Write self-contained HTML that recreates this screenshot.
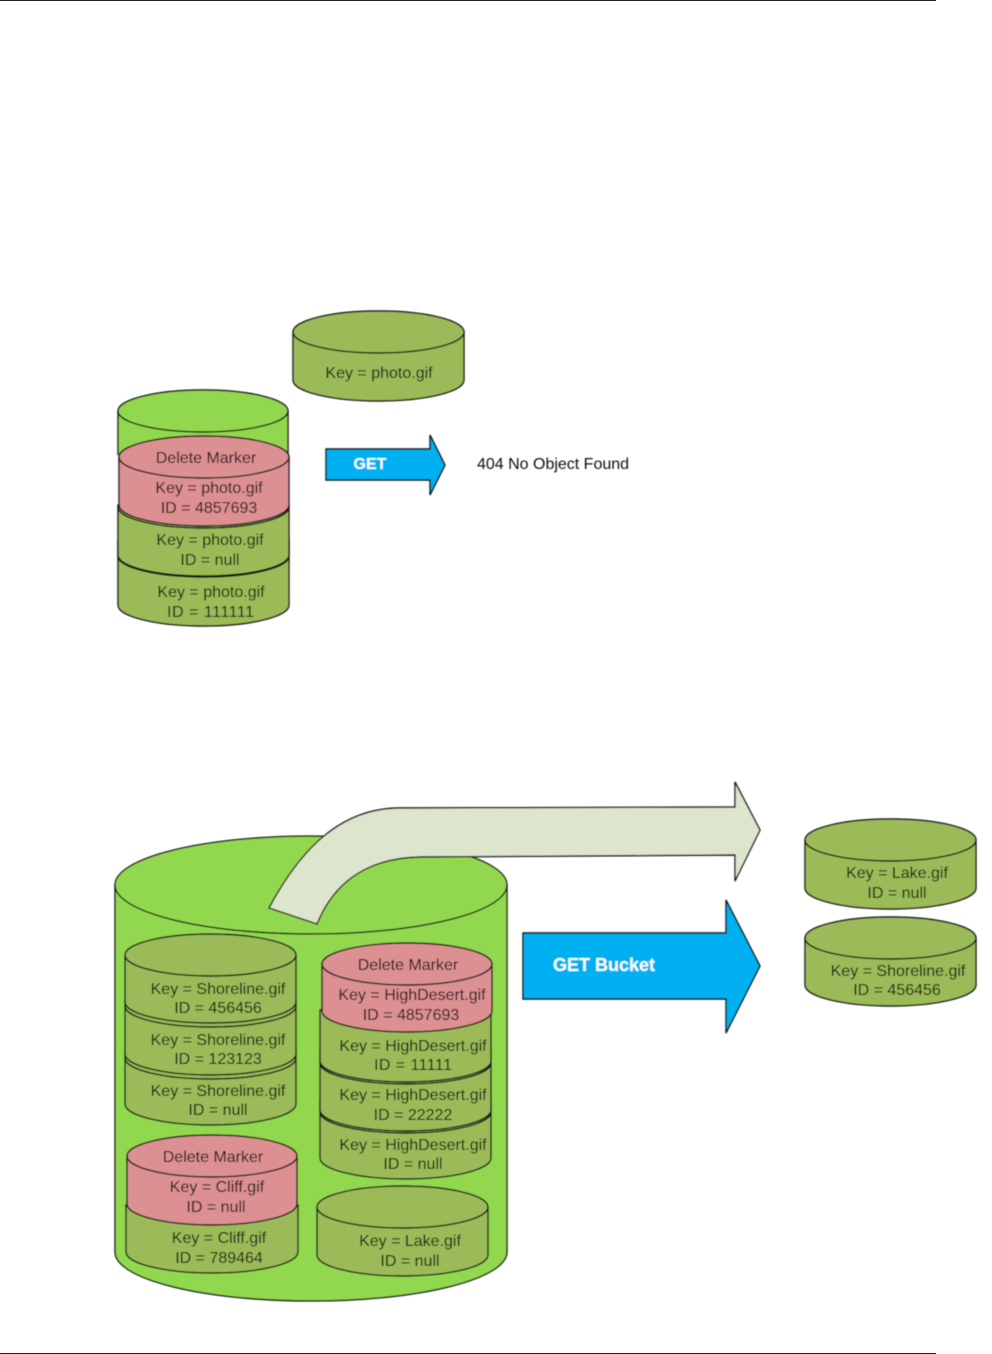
<!DOCTYPE html>
<html><head><meta charset="utf-8"><style>
html,body{margin:0;padding:0;background:#fff;width:992px;height:1354px;overflow:hidden}
svg{display:block}
text{font-family:"Liberation Sans",sans-serif;font-size:16px;fill:#111;text-anchor:middle}
.g{fill:#9bbb59}.r{fill:#dd9092}.l{fill:#92d850}
path,ellipse{stroke:#141414;stroke-width:1.4}
</style></head><body>
<svg width="992" height="1354" viewBox="0 0 992 1354" xmlns="http://www.w3.org/2000/svg">
<defs><filter id="b" x="-2%" y="-2%" width="104%" height="104%"><feGaussianBlur stdDeviation="0.4"/></filter></defs>
<rect x="0" y="0" width="936" height="1" fill="#222"/>
<rect x="0" y="1353" width="936" height="1" fill="#222"/>
<g filter="url(#b)">
<!-- top photo cylinder -->
<path class="g" d="M293,332 A85.5,21 0 0 1 464,332 V380 A85.5,21 0 0 1 293,380 Z"/>
<path fill="none" d="M293,332 A85.5,21 0 0 0 464,332"/>
<text x="379" y="378">Key = photo.gif</text>

<!-- left stack -->
<path class="l" d="M118,411 A85,21 0 0 1 288,411 V455 H118 Z" style="stroke:none"/>
<path fill="none" d="M118,455 V411 A85,21 0 0 1 288,411 V455"/>
<path fill="none" d="M118,411 A85,21 0 0 0 288,411"/>
<path class="g" d="M118,540 H289 V605 A85.5,21 0 0 1 118,605 Z"/>
<path fill="none" stroke-width="2" d="M118,556 A85.5,21 0 0 0 289,556"/>
<path class="g" d="M118,505 H289 V555 A85.5,21 0 0 1 118,555 Z"/>
<path fill="none" stroke-width="1.6" d="M118,507 A85.5,21 0 0 0 289,507"/>
<path class="r" d="M119,457 A85,21 0 0 1 289,457 V505 A85,21 0 0 1 119,505 Z"/>
<path fill="none" d="M119,457 A85,21 0 0 0 289,457"/>
<text x="206" y="463">Delete Marker</text>
<text x="209" y="493">Key = photo.gif</text>
<text x="209" y="513">ID = 4857693</text>
<text x="210" y="545">Key = photo.gif</text>
<text x="210" y="565">ID = null</text>
<text x="211" y="597">Key = photo.gif</text>
<text x="210.5" y="617" textLength="87">ID = 111111</text>

<!-- GET arrow -->
<path fill="#00b0f0" d="M326,449 H430 V435 L445,465 L430,495 V480 H326 Z"/>
<text x="370" y="469" style="fill:#fff;font-weight:bold">GET</text>
<text x="553" y="469" style="fill:#111">404 No Object Found</text>

<!-- big cylinder -->
<path class="l" d="M115,885 A196,49 0 0 1 507,885 V1252 A196,49 0 0 1 115,1252 Z"/>
<path fill="none" d="M115,885 A196,49 0 0 0 507,885"/>

<!-- curved arrow -->
<path fill="#dde5cd" stroke-width="1.5" d="M269,908 C300,850 340,808 400,808 L735,807 V782 L760,830 L735,881 V855 L420,857 C370,858 335,880 317,924 Z"/>

<!-- bucket arrow -->
<path fill="#00b0f0" d="M523,933 H726 V900 L760,966 L726,1033 V999 H523 Z"/>
<text x="604" y="971" style="fill:#fff;font-weight:bold;font-size:18px">GET Bucket</text>

<!-- Shoreline stack -->
<path class="g" d="M125,1050 H296 V1104 A85.5,21 0 0 1 125,1104 Z"/>
<path fill="none" d="M125,1058 A85.5,21 0 0 0 296,1058"/>
<path class="g" d="M125,1000 H296 V1054 A85.5,21 0 0 1 125,1054 Z"/>
<path fill="none" d="M125,1006 A85.5,21 0 0 0 296,1006"/>
<path class="g" d="M125,955 A85.5,21 0 0 1 296,955 V1002 A85.5,21 0 0 1 125,1002 Z"/>
<path fill="none" d="M125,955 A85.5,21 0 0 0 296,955"/>
<text x="218" y="994">Key = Shoreline.gif</text>
<text x="218" y="1013">ID = 456456</text>
<text x="218" y="1045">Key = Shoreline.gif</text>
<text x="218" y="1064">ID = 123123</text>
<text x="218" y="1096">Key = Shoreline.gif</text>
<text x="218" y="1115">ID = null</text>

<!-- Cliff stack -->
<path class="g" d="M126,1205 H298 V1252 A86,21 0 0 1 126,1252 Z"/>
<path class="r" d="M127,1156 A85,21 0 0 1 297,1156 V1204 A85,21 0 0 1 127,1204 Z"/>
<path fill="none" d="M127,1156 A85,21 0 0 0 297,1156"/>
<text x="213" y="1162">Delete Marker</text>
<text x="217" y="1192">Key = Cliff.gif</text>
<text x="216" y="1212">ID = null</text>
<text x="219" y="1243">Key = Cliff.gif</text>
<text x="219" y="1263">ID = 789464</text>

<!-- HighDesert stack -->
<path class="g" d="M320,1100 H491 V1158 A85.5,21 0 0 1 320,1158 Z"/>
<path fill="none" stroke-width="2.2" d="M320,1112 A85.5,21 0 0 0 491,1112"/>
<path class="g" d="M320,1050 H491 V1110 A85.5,21 0 0 1 320,1110 Z"/>
<path fill="none" stroke-width="2.2" d="M320,1063 A85.5,21 0 0 0 491,1063"/>
<path class="g" d="M320,1010 H491 V1061 A85.5,21 0 0 1 320,1061 Z"/>
<path class="r" d="M322,964 A85,21 0 0 1 492,964 V1011 A85,21 0 0 1 322,1011 Z"/>
<path fill="none" d="M322,964 A85,21 0 0 0 492,964"/>
<text x="408" y="970">Delete Marker</text>
<text x="412" y="1000">Key = HighDesert.gif</text>
<text x="411" y="1020">ID = 4857693</text>
<text x="413" y="1051">Key = HighDesert.gif</text>
<text x="413" y="1070" textLength="78">ID = 11111</text>
<text x="413" y="1100">Key = HighDesert.gif</text>
<text x="413" y="1120">ID = 22222</text>
<text x="413" y="1150">Key = HighDesert.gif</text>
<text x="413" y="1169">ID = null</text>

<!-- Lake in bucket -->
<path class="g" d="M317,1207 A85.5,21 0 0 1 488,1207 V1255 A85.5,21 0 0 1 317,1255 Z"/>
<path fill="none" d="M317,1207 A85.5,21 0 0 0 488,1207"/>
<text x="410" y="1246">Key = Lake.gif</text>
<text x="410" y="1266">ID = null</text>

<!-- Result cylinders -->
<path class="g" d="M805,840 A85.5,21 0 0 1 976,840 V888 A85.5,21 0 0 1 805,888 Z"/>
<path fill="none" d="M805,840 A85.5,21 0 0 0 976,840"/>
<text x="897" y="878">Key = Lake.gif</text>
<text x="897" y="898">ID = null</text>
<path class="g" d="M805,938 A85.5,21 0 0 1 976,938 V985 A85.5,21 0 0 1 805,985 Z"/>
<path fill="none" d="M805,938 A85.5,21 0 0 0 976,938"/>
<text x="898" y="976">Key = Shoreline.gif</text>
<text x="897" y="995">ID = 456456</text>
</g>
</svg>
</body></html>
